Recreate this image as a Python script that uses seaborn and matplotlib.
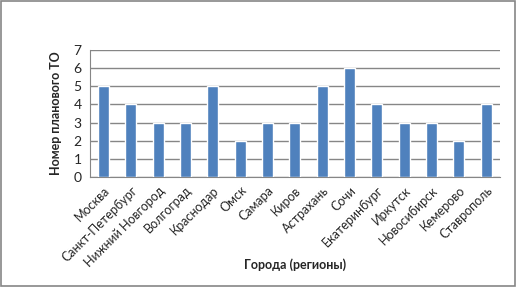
import matplotlib
matplotlib.use("Agg")
import matplotlib.pyplot as plt
import numpy as np
import pandas as pd
import seaborn as sns

# данные
cities = ["Москва", "Санкт-Петербург", "Нижний Новгород", "Волгоград", "Краснодар",
          "Омск", "Самара", "Киров", "Астрахань", "Сочи", "Екатеринбург",
          "Иркутск", "Новосибирск", "Кемерово", "Ставрополь"]
to_number = [5, 4, 3, 3, 5, 2, 3, 3, 5, 6, 4, 3, 3, 2, 4]

df = pd.DataFrame({"city": cities, "to": to_number})

sns.set_style("white")
plt.rcParams['font.family'] = ['Lato', 'DejaVu Sans']

fig = plt.figure(figsize=(5.17, 2.87), dpi=100)
ax = fig.add_axes([0.174, 0.383, 0.793, 0.443])

sns.barplot(data=df, x="city", y="to", color="#4F81BD", saturation=1,
            width=0.4, ax=ax, zorder=3)

ax.set_ylim(0, 7)
ax.set_xlim(-0.5, len(cities) - 0.5)
ax.set_yticks(range(0, 8))
ax.yaxis.grid(True, color="#868686", lw=1, zorder=0)
ax.set_axisbelow(True)

for s in ["top", "right"]:
    ax.spines[s].set_visible(False)
ax.spines["left"].set_color("#868686")
ax.spines["bottom"].set_color("#868686")

# деления между категориями
ax.set_xticks(np.arange(-0.5, len(cities), 1.0), minor=True)
ax.tick_params(axis="x", which="minor", length=4, color="#868686", direction="out")
ax.tick_params(axis="x", which="major", length=0, pad=5)
ax.tick_params(axis="y", length=4, color="#868686", direction="out", labelsize=10, pad=2)
ax.set_xticks(range(len(cities)))
ax.set_xticklabels(cities, rotation=45, ha="right", rotation_mode="anchor", fontsize=9)

ax.set_xlabel("Города (регионы)", fontsize=9, fontweight="bold", labelpad=-7)
ax.set_ylabel("Номер планового ТО", fontsize=9, fontweight="bold", labelpad=8)

# рамка диаграммы
fig.patches.append(plt.Rectangle((0.002, 0.003), 0.995, 0.993, transform=fig.transFigure,
                                 fill=False, edgecolor="#868686", lw=1.2))

fig.savefig("out.png", dpi=100)
